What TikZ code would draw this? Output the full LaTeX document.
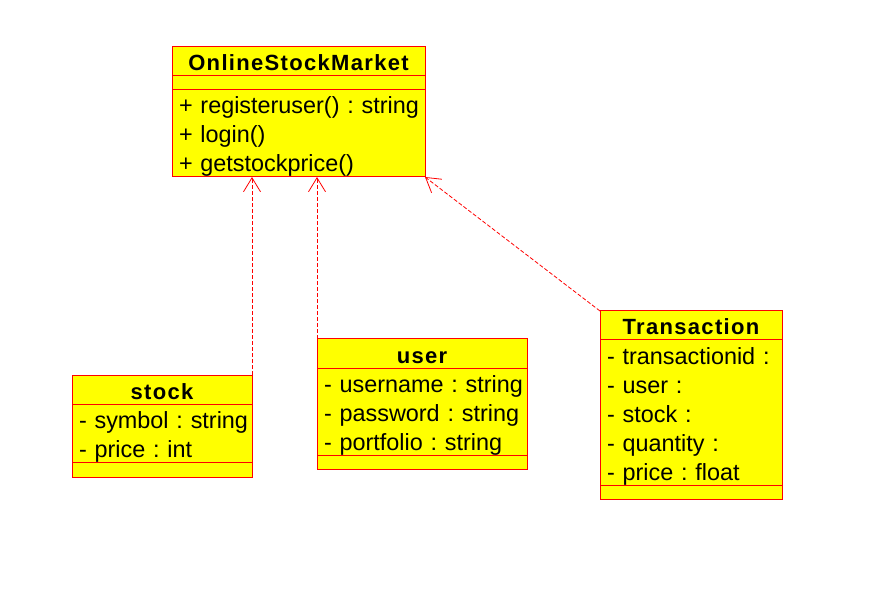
\documentclass[tikz,border=0pt]{standalone}
\usepackage{fontspec}
\setmainfont{Liberation Sans}
\usetikzlibrary{positioning,arrows.meta}

\definecolor{classfill}{RGB}{255,255,0}
\definecolor{classline}{RGB}{255,0,0}
\newcommand\row[1]{\mbox{\rule[-5pt]{0pt}{29pt}#1}}
\frenchspacing

\tikzset{
	box/.style={draw=classline, fill=classfill, line width=1pt, inner xsep=7pt, inner ysep=0pt,
		outer sep=0pt, anchor=north west, font=\fontsize{23.4}{29}\selectfont},
	classname/.style={box, align=center,
		font=\fontsize{22}{29}\selectfont\bfseries\addfontfeatures{LetterSpace=6}},
	members/.style={box, align=left},
	spacer/.style={box, minimum height=14pt},
	realize/.style={draw=classline, dash pattern=on 4pt off 2pt, line width=0.8pt,
		-{Straight Barb[length=14pt,width=17pt]}}
}

\begin{document}
\begin{tikzpicture}[x=1pt, y=-1pt]

		\useasboundingbox (0,0) rectangle (883,601);

		% OnlineStockMarket
		\node[classname, text width=239pt] (osm) at (172, 47) {\row{OnlineStockMarket}};
		\node[spacer, text width=239pt, below=0pt of osm] (osm-attr) {};
		\node[members, text width=239pt, below=0pt of osm-attr] (osm-ops)
			{\row{+ registeruser() : string}\\ \row{+ login()}\\ \row{+ getstockprice()}};

		% stock
		\node[classname, text width=166pt] (stock) at (72, 375) {\row{stock}};
		\node[members, text width=166pt, below=0pt of stock] (stock-attr)
			{\row{- symbol : string}\\ \row{- price : int}};
		\node[spacer, minimum height=15pt, text width=166pt, below=0pt of stock-attr] (stock-ops) {};

		% user
		\node[classname, text width=196pt] (user) at (317, 339) {\row{user}};
		\node[members, text width=196pt, below=0pt of user] (user-attr)
			{\row{- username : string}\\ \row{- password : string}\\ \row{- portfolio : string}};
		\node[spacer, text width=196pt, below=0pt of user-attr] (user-ops) {};

		% Transaction
		\node[classname, text width=168pt] (trans) at (600, 311) {\row{Transaction}};
		\node[members, text width=168pt, below=0pt of trans] (trans-attr)
			{\row{- transactionid :}\\ \row{- user :}\\ \row{- stock :}\\ \row{- quantity :}\\ \row{- price : float}};
		\node[spacer, text width=168pt, below=0pt of trans-attr] (trans-ops) {};

		\draw[realize] (stock.north east) -- (stock.north east |- osm-ops.south);
		\draw[realize] (user.north west) -- (user.north west |- osm-ops.south);
		\draw[realize] (trans.north west) -- (osm-ops.south east);

\end{tikzpicture}
\end{document}
